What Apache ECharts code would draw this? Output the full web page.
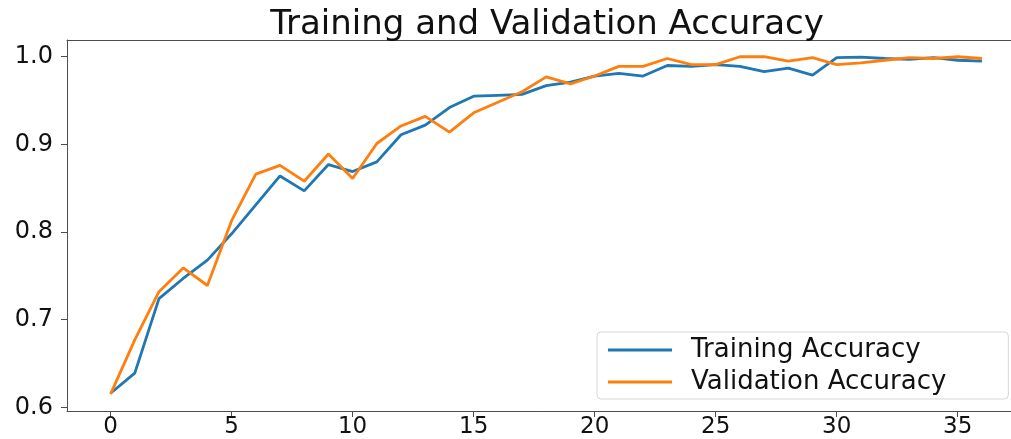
<!DOCTYPE html>
<html>
<head>
<meta charset="utf-8">
<script src="https://cdn.jsdelivr.net/npm/echarts@6/dist/echarts.min.js"></script>
<style>
html,body{margin:0;padding:0;background:#fff;}
#chart{width:1011px;height:439px;}
</style>
</head>
<body>
<div id="chart"></div>
<script>
const epochs = [0,1,2,3,4,5,6,7,8,9,10,11,12,13,14,15,16,17,18,19,20,21,22,23,24,25,26,27,28,29,30,31,32,33,34,35,36];
const trainingAccuracy = [0.616,0.639,0.724,0.747,0.768,0.798,0.831,0.864,0.847,0.877,0.869,0.880,0.911,0.922,0.942,0.955,0.956,0.957,0.967,0.971,0.978,0.981,0.978,0.990,0.989,0.991,0.989,0.983,0.987,0.979,0.999,0.9995,0.998,0.997,0.999,0.996,0.995];
const validationAccuracy = [0.615,0.677,0.732,0.759,0.739,0.813,0.866,0.876,0.858,0.889,0.861,0.901,0.921,0.932,0.914,0.936,0.948,0.960,0.977,0.969,0.978,0.989,0.989,0.998,0.991,0.991,1.000,1.000,0.995,0.999,0.991,0.993,0.996,0.999,0.998,1.000,0.998];
const xTicks = [0,5,10,15,20,25,30,35];
const yTicks = [0.6,0.7,0.8,0.9,1.0];
const seriesNames = ['Training Accuracy','Validation Accuracy'];
const titleText = 'Training and Validation Accuracy';

const chart = echarts.init(document.getElementById('chart'), null, {renderer:'canvas'});
const font = 'DejaVu Sans';
const axisCol = '#4d4d4d';
chart.setOption({
  animation:false,
  backgroundColor:'#ffffff',
  title:{text:titleText,left:542,textAlign:'center',top:3,
    textStyle:{fontFamily:font,fontSize:34,fontWeight:'normal',color:'#111'}},
  grid:{left:67,right:0,top:40,bottom:28},
  legend:{
    orient:'vertical',left:597,top:332,
    padding:[4,62,3,11],itemGap:4,
    itemWidth:64,itemHeight:3,icon:'rect',
    borderColor:'#d6d6d6',borderWidth:1,borderRadius:4,backgroundColor:'#fff',
    textStyle:{fontFamily:font,fontSize:26,color:'#111',lineHeight:28,padding:[0,0,0,14]},
    data:seriesNames
  },
  xAxis:[{
    type:'value',min:-1.8,max:37.2,
    axisLine:{show:true,onZero:false,lineStyle:{color:axisCol,width:1}},
    axisTick:{show:true,length:6,customValues:xTicks,lineStyle:{color:axisCol}},
    axisLabel:{customValues:xTicks,margin:5,fontFamily:font,fontSize:23,color:'#111'},
    splitLine:{show:false}
  },{
    type:'value',position:'top',min:-1.8,max:37.2,
    axisLine:{show:true,onZero:false,lineStyle:{color:axisCol,width:1}},
    axisTick:{show:false},axisLabel:{show:false},splitLine:{show:false}
  }],
  yAxis:{
    type:'value',min:0.5958,max:1.0191,
    axisLine:{show:true,onZero:false,lineStyle:{color:axisCol,width:1}},
    axisTick:{show:true,length:6,customValues:yTicks,lineStyle:{color:axisCol}},
    axisLabel:{customValues:yTicks,margin:14,fontFamily:font,fontSize:24,color:'#111',
      formatter:v=>Number(v).toFixed(1)},
    splitLine:{show:false}
  },
  series:[
    {name:seriesNames[0],type:'line',xAxisIndex:0,showSymbol:false,symbol:'none',
      lineStyle:{color:'#1f77b4',width:2.8},itemStyle:{color:'#1f77b4'},
      data:epochs.map((e,i)=>[e,trainingAccuracy[i]])},
    {name:seriesNames[1],type:'line',xAxisIndex:0,showSymbol:false,symbol:'none',
      lineStyle:{color:'#ff7f0e',width:2.8},itemStyle:{color:'#ff7f0e'},
      data:epochs.map((e,i)=>[e,validationAccuracy[i]])}
  ]
});
</script>
</body>
</html>
